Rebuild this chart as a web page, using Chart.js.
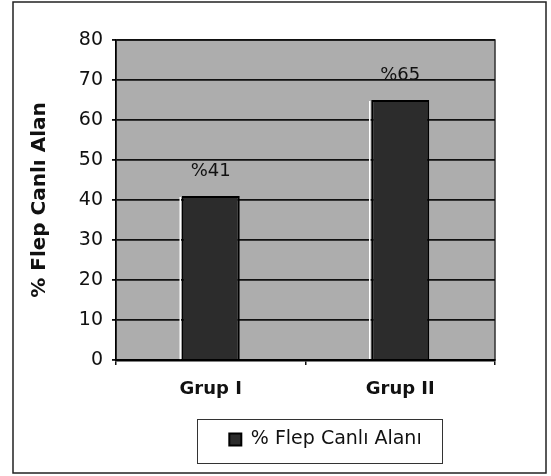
<!DOCTYPE html>
<html>
<head>
<meta charset="utf-8">
<script src="https://cdn.jsdelivr.net/npm/chart.js@4/dist/chart.umd.min.js"></script>
<style>
  html, body { margin: 0; padding: 0; background: #fff; }
  canvas { display: block; }
</style>
</head>
<body>
<canvas id="myChart" width="551" height="476"></canvas>
<script>
// data
var groups = ["Grup I", "Grup II"];
var flepValues = [41, 65];
var valueLabels = ["%41", "%65"];
var seriesName = "% Flep Canlı Alanı";
var yTitle = "% Flep Canlı Alan";
var yMin = 0;
var yMax = 80;
var yStep = 10;

var FONT = "'DejaVu Sans', 'Liberation Sans', Arial, sans-serif";

// frame, plot background and legend box
var framePlugin = {
  id: 'framePlugin',
  beforeDraw: function(chart) {
    var ctx = chart.ctx;
    var a = chart.chartArea;
    ctx.save();
    ctx.fillStyle = '#fff';
    ctx.fillRect(0, 0, chart.width, chart.height);
    ctx.strokeStyle = '#222';
    ctx.lineWidth = 1.5;
    ctx.strokeRect(13, 2, 533, 471);
    ctx.fillStyle = '#adadad';
    ctx.fillRect(a.left, a.top, a.right - a.left, a.bottom - a.top);
    ctx.strokeStyle = '#333';
    ctx.lineWidth = 1.5;
    ctx.strokeRect(a.left, a.top, a.right - a.left, a.bottom - a.top);
    ctx.restore();

    // move the legend to where it sits in the picture
    var lg = chart.legend;
    lg.left = 200;
    lg.right = 451;
    lg.top = 420;
    lg.bottom = 463;
  },
  afterDraw: function(chart) {
    var ctx = chart.ctx;
    ctx.save();
    ctx.strokeStyle = '#333';
    ctx.lineWidth = 1;
    ctx.strokeRect(197.5, 419.5, 245, 44);
    ctx.restore();
  }
};

// value labels above the bars, and the light edge on the bars' left side
var valueLabelPlugin = {
  id: 'valueLabelPlugin',
  afterDatasetsDraw: function(chart) {
    var ctx = chart.ctx;
    var meta = chart.getDatasetMeta(0);
    ctx.save();
    meta.data.forEach(function(bar) {
      var left = bar.x - bar.width / 2;
      ctx.strokeStyle = '#fff';
      ctx.lineWidth = 1.5;
      ctx.beginPath();
      ctx.moveTo(left - 1.5, bar.y + 1);
      ctx.lineTo(left - 1.5, bar.base);
      ctx.stroke();
    });
    ctx.font = "18px " + FONT;
    ctx.fillStyle = '#111';
    ctx.textAlign = 'center';
    ctx.textBaseline = 'alphabetic';
    meta.data.forEach(function(bar, i) {
      ctx.fillText(valueLabels[i], bar.x, bar.y - 20);
    });
    ctx.restore();
  }
};

var ctx = document.getElementById('myChart').getContext('2d');
var chart = new Chart(ctx, {
  type: 'bar',
  data: {
    labels: groups,
    datasets: [{
      label: seriesName,
      data: flepValues,
      backgroundColor: '#2c2c2c',
      borderColor: '#000',
      borderWidth: 2,
      categoryPercentage: 1,
      barPercentage: 0.306
    }]
  },
  options: {
    responsive: false,
    animation: false,
    devicePixelRatio: 1,
    layout: {
      padding: { left: 13, top: 40, right: 56, bottom: 12 }
    },
    plugins: {
      tooltip: { enabled: false },
      legend: {
        position: 'bottom',
        labels: {
          font: { family: FONT, size: 19 },
          color: '#111',
          boxWidth: 12,
          boxHeight: 12,
          padding: 10
        }
      }
    },
    scales: {
      x: {
        grid: {
          drawOnChartArea: false,
          drawTicks: true,
          tickLength: 5,
          color: '#111',
          lineWidth: 1.5,
          offset: true
        },
        border: { color: '#000', width: 2.5 },
        ticks: {
          font: { family: FONT, size: 18, weight: 'bold' },
          color: '#111',
          padding: 14
        },
        afterFit: function(scale) { scale.height = 65; }
      },
      y: {
        min: yMin,
        max: yMax,
        ticks: {
          stepSize: yStep,
          font: { family: FONT, size: 19 },
          color: '#111',
          padding: 9
        },
        grid: {
          color: '#111',
          lineWidth: 1.8,
          tickLength: 4
        },
        border: { color: '#000', width: 1.5 },
        title: {
          display: true,
          text: yTitle,
          font: { family: FONT, size: 20, weight: 'bold' },
          color: '#111',
          padding: { top: 15, bottom: 0 }
        },
        afterFit: function(scale) { scale.width = 103; }
      }
    }
  },
  plugins: [framePlugin, valueLabelPlugin]
});
</script>
</body>
</html>
